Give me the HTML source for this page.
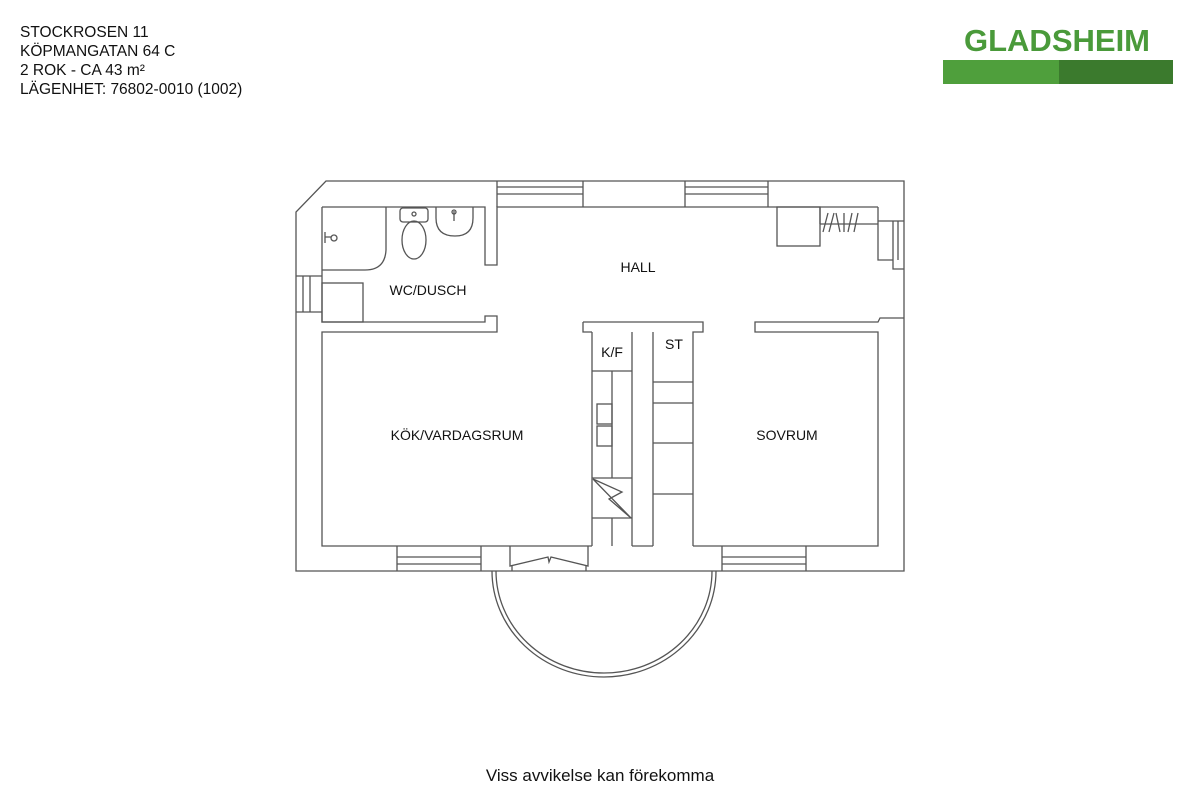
<!DOCTYPE html>
<html><head><meta charset="utf-8"><style>
html,body{margin:0;padding:0;background:#fff;width:1200px;height:801px;overflow:hidden}
svg{position:absolute;left:0;top:0}
text{font-family:"Liberation Sans",sans-serif;fill:#111}
</style></head><body>
<svg width="1200" height="801" viewBox="0 0 1200 801">
<g font-size="15.5">
<text x="20" y="37">STOCKROSEN 11</text>
<text x="20" y="56">KÖPMANGATAN 64 C</text>
<text x="20" y="75">2 ROK - CA 43 m²</text>
<text x="20" y="94">LÄGENHET:  76802-0010 (1002)</text>
</g>
<text x="1057" y="51" font-size="31" font-weight="bold" text-anchor="middle" style="fill:#4a9a3a">GLADSHEIM</text>
<rect x="943" y="60" width="116" height="24" fill="#4f9f3c"/>
<rect x="1059" y="60" width="114" height="24" fill="#3b7a2d"/>

<g fill="none" stroke="#555" stroke-width="1.3">
<path d="M326 181 H904 V571 H296 V212 Z"/>
<path d="M322 207 H485 V265 H497 V207 H878"/>
<path d="M322 207 V322 H485 V316 H497 V332 H322 V546 H592"/>
<path d="M632 546 H653 M693 546 H878 V332 H755 V322 H878 L880 318 H904"/>
<path d="M322 270 H365 Q385 270 386 250 V207"/>
<rect x="322" y="283" width="41" height="39"/>
<path d="M296 276 H322 M296 312 H322 M303 276 V312 M310 276 V312"/>
<path d="M325 232 V243 M325 237 H331" />
<circle cx="334" cy="238" r="3"/>
<rect x="400" y="208" width="28" height="14" rx="3"/>
<circle cx="414" cy="214" r="2"/>
<ellipse cx="414" cy="240" rx="12" ry="19"/>
<path d="M436 207 V218 Q436 236 455 236 Q473 236 473 218 V207"/>
<path d="M454 211 V221"/><circle cx="454" cy="212" r="2"/>
<path d="M497 181 V207 M583 181 V207 M497 187 H583 M497 194 H583"/>
<path d="M685 181 V207 M768 181 V207 M685 187 H768 M685 194 H768"/>
<rect x="777" y="207" width="43" height="39"/>
<path d="M820 207 V224 M820 224 H878 M878 207 V260 H893 V269 H904 M878 221 H904 M893 221 V260 M898 221 V260"/>
<path d="M823 232 L828 213 M829 232 L834 213 M836 213 L840 232 M844 213 V232 M848 232 L852 213 M854 232 L858 213"/>
<path d="M583 322 H703 V332 H693 V546 M653 332 V546 M632 332 V546 M592 332 V546 M592 332 H583 V322"/>
<path d="M592 371 H632 M612 371 V478 M592 478 H632 M592 518 H632 M612 518 V546"/>
<rect x="597" y="404" width="15" height="20"/><rect x="597" y="426" width="15" height="20"/>
<path d="M593 479 L631 518 L609 499 L622 492 L593 479 Z"/>
<path d="M653 382 H693 M653 403 H693 M653 443 H693 M653 494 H693"/>
<path d="M397 546 V571 M481 546 V571 M397 557 H481 M397 564 H481"/>
<path d="M722 546 V571 M806 546 V571 M722 557 H806 M722 564 H806"/>
<path d="M510 546 V566 L548 557 L549 562 L551 557 L588 566 V546"/>
<path d="M512 566 V571 M586 566 V571"/>
<path d="M492 571 A112 106 0 0 0 716 571"/>
<path d="M496 571 A108 102 0 0 0 712 571"/>
</g>
<g font-size="14" text-anchor="middle">
<text x="428" y="295">WC/DUSCH</text>
<text x="638" y="272">HALL</text>
<text x="612" y="357">K/F</text>
<text x="674" y="349">ST</text>
<text x="457" y="440">KÖK/VARDAGSRUM</text>
<text x="787" y="440">SOVRUM</text>
<text x="600" y="781" font-size="17">Viss avvikelse kan förekomma</text>
</g>
</svg>
</body></html>
